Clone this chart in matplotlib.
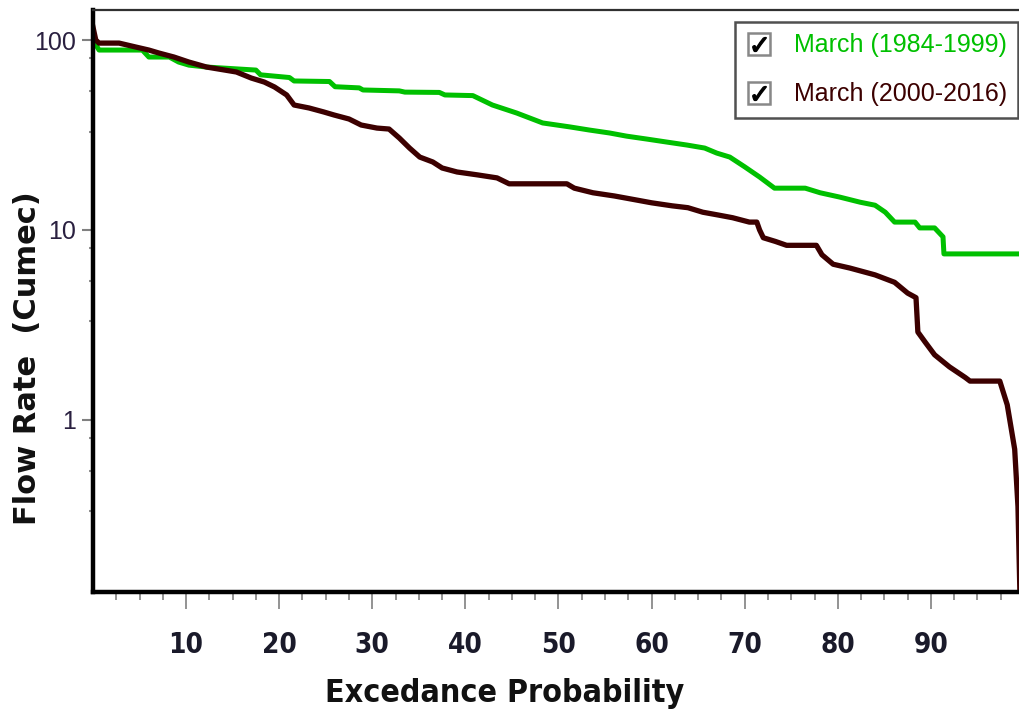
import numpy as np
import matplotlib.pyplot as plt
from matplotlib.lines import Line2D
from matplotlib.legend_handler import HandlerTuple
from matplotlib.ticker import FixedLocator, NullFormatter

# Flow duration curves (exceedance %, flow in cumec)
prob_early = [0, 0.65, 5.3, 6.0, 8.2, 9.2, 10.3, 12.2, 17.5, 18.0, 21.1, 21.6,
              25.4, 26.0, 28.6, 29.0, 32.9, 33.5, 37.2, 37.8, 40.8, 42.9, 45.5,
              48.3, 51.2, 53.3, 55.5, 57.3, 59.5, 61.7, 63.8, 65.7, 67.0, 68.4,
              70.0, 71.6, 73.2, 76.5, 78.1, 80.2, 82.4, 84.0, 85.1, 86.1, 88.3,
              88.8, 90.4, 91.3, 91.4, 100]
flow_early = [100, 88.6, 88.6, 81.4, 81.4, 76.6, 73.8, 72.1, 69.5, 65.6, 63.5, 60.9,
              60.5, 56.8, 56.0, 54.6, 54.0, 53.2, 53.0, 51.4, 51.0, 45.5, 41.3,
              36.6, 34.9, 33.6, 32.4, 31.2, 30.1, 29.0, 28.0, 27.0, 25.4, 24.2,
              21.5, 19.0, 16.6, 16.6, 15.7, 14.9, 14.0, 13.5, 12.4, 11.0, 11.0,
              10.25, 10.25, 9.2, 7.48, 7.48]

prob_late = [0, 0.3, 0.65, 2.8, 4.6, 6.0, 7.1, 8.7, 10.3, 12.2, 15.4, 17.0, 18.4,
             19.5, 20.8, 21.6, 23.2, 24.8, 25.9, 27.5, 28.8, 30.5, 31.8, 32.9,
             34.0, 35.1, 36.5, 37.5, 39.1, 41.3, 43.4, 44.7, 50.9, 51.7, 53.7,
             56.0, 58.3, 60.0, 62.2, 63.9, 65.5, 67.1, 68.7, 70.5, 71.3, 71.6,
             72.0, 73.3, 74.5, 77.7, 78.3, 79.5, 81.3, 84.0, 86.1, 87.5, 88.4,
             88.6, 89.4, 90.4, 92.0, 93.7, 94.2, 97.4, 98.2, 99.0, 99.35, 99.6]
flow_late = [117, 100, 96.4, 96.4, 91.9, 88.6, 85.4, 81.4, 76.6, 72.1, 67.9, 63.1,
             60.1, 56.6, 51.4, 45.5, 43.9, 41.8, 40.3, 38.4, 35.7, 34.4, 34.0,
             30.5, 27.0, 24.2, 22.8, 21.2, 20.2, 19.5, 18.8, 17.5, 17.5, 16.6,
             15.7, 15.1, 14.4, 13.9, 13.4, 13.1, 12.4, 12.0, 11.6, 11.0, 11.0,
             10.0, 9.1, 8.7, 8.3, 8.3, 7.4, 6.6, 6.3, 5.8, 5.3, 4.65, 4.4, 2.9,
             2.56, 2.2, 1.9, 1.67, 1.6, 1.6, 1.2, 0.7, 0.35, 0.1]

labels = ["March (1984-1999)", "March (2000-2016)"]
colors = ["#00c000", "#3c0000"]

fig = plt.figure(figsize=(10.2, 7.2), dpi=100)
ax = fig.add_axes([93 / 1020, 1 - 592 / 720, (1024 - 93) / 1020, (592 - 10) / 720])

ax.plot(prob_early, flow_early, color=colors[0], lw=3.6)
ax.plot(prob_late, flow_late, color=colors[1], lw=3.8)

ax.set_yscale("log")
ax.set_xlim(0, 100)
ax.set_ylim(0.124, 144)

# ticks
ax.xaxis.set_major_locator(FixedLocator(np.arange(10, 91, 10)))
ax.xaxis.set_minor_locator(FixedLocator(np.arange(2.5, 100, 2.5)))
ax.yaxis.set_major_locator(FixedLocator([1, 10, 100]))
minor_y = [m * d for d in (0.1, 1, 10) for m in (3.3, 5.4, 8.0)]
ax.yaxis.set_minor_locator(FixedLocator(minor_y))
ax.yaxis.set_minor_formatter(NullFormatter())
ax.set_yticklabels(["1", "10", "100"])

ax.tick_params(axis="x", which="major", length=12, width=1.2, color="#808080",
               pad=16, labelsize=20, labelcolor="#1a1a2a")
ax.tick_params(axis="x", which="minor", length=6, width=1.2, color="#808080")
ax.tick_params(axis="y", which="major", length=8, width=1.5, color="#808080",
               pad=4, labelsize=18, labelcolor="#2a2040")
ax.tick_params(axis="y", which="minor", length=3, width=1.5, color="#909090")
for lab in ax.get_xticklabels():
    lab.set_family(["DejaVu Sans"])
    lab.set_fontstretch("condensed")
    lab.set_fontweight("bold")
for lab in ax.get_yticklabels():
    lab.set_family(["Liberation Sans", "DejaVu Sans"])

# frame
ax.spines["left"].set_linewidth(3.2)
ax.spines["bottom"].set_linewidth(3.2)
ax.spines["top"].set_linewidth(1.6)
ax.spines["top"].set_color("#303030")
ax.spines["right"].set_visible(False)

ax.set_xlabel("Excedance Probability", fontsize=23, fontweight="bold",
              family="DejaVu Sans", fontstretch="condensed", color="#111111")
ax.xaxis.set_label_coords((505 - 93) / 931, -(678 - 592) / 582)
ax.set_ylabel("Flow Rate  (Cumec)", fontsize=22, fontweight="bold",
              family="DejaVu Sans", color="#111111")
ax.yaxis.set_label_coords(-(93 - 42) / 931, (592 - 358) / 582)

# legend with check-box style handles
handles = []
for c in colors:
    box = Line2D([], [], marker="s", ms=16, mfc="white", mec="#888888", mew=1.8, ls="none")
    tick = Line2D([], [], marker="$\\checkmark$", ms=10, color="black", ls="none")
    handles.append((box, tick))
leg = fig.legend(handles, labels, handler_map={tuple: HandlerTuple(ndivide=1, pad=0)},
                 loc="upper right", bbox_to_anchor=(1018 / 1020, 1 - 22 / 720),
                 bbox_transform=fig.transFigure,
                 fancybox=False, framealpha=1, edgecolor="#505050", fontsize=18,
                 handlelength=1.0, handletextpad=0.9, labelspacing=1.0,
                 borderpad=0.45, borderaxespad=0)
leg.get_frame().set_linewidth(1.8)
for txt, c in zip(leg.get_texts(), colors):
    txt.set_color(c)
    txt.set_family(["Liberation Sans", "DejaVu Sans"])

fig.savefig("out.png", dpi=100)
